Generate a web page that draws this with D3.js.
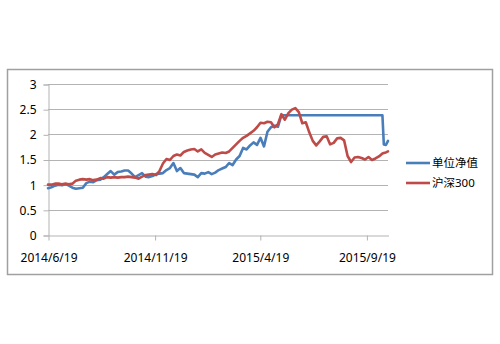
<!DOCTYPE html>
<html>
<head>
<meta charset="utf-8">
<script src="https://cdn.jsdelivr.net/npm/d3@7"></script>
<style>
  html, body { margin: 0; padding: 0; background: #fff; }
  svg { display: block; }
  text { font-family: "Noto Sans", "Noto Sans CJK SC", sans-serif; fill: #000; }
</style>
</head>
<body>
<svg id="chart" width="500" height="344"></svg>
<script>
// Observation dates (roughly every five days)
const dates = [
  "2014-06-19","2014-06-24","2014-06-29","2014-07-04","2014-07-09","2014-07-14","2014-07-19","2014-07-24","2014-07-29","2014-08-03",
  "2014-08-08","2014-08-13","2014-08-18","2014-08-23","2014-08-28","2014-09-02","2014-09-07","2014-09-12","2014-09-17","2014-09-22",
  "2014-09-27","2014-10-02","2014-10-07","2014-10-12","2014-10-17","2014-10-22","2014-10-27","2014-11-01","2014-11-06","2014-11-11",
  "2014-11-16","2014-11-21","2014-11-26","2014-12-01","2014-12-06","2014-12-11","2014-12-16","2014-12-21","2014-12-26","2014-12-31",
  "2015-01-05","2015-01-10","2015-01-15","2015-01-20","2015-01-25","2015-01-30","2015-02-04","2015-02-09","2015-02-14","2015-02-19",
  "2015-02-24","2015-03-01","2015-03-06","2015-03-11","2015-03-16","2015-03-21","2015-03-26","2015-03-31","2015-04-05","2015-04-10",
  "2015-04-15","2015-04-20","2015-04-25","2015-04-30","2015-05-05","2015-05-10","2015-05-15","2015-05-20","2015-05-25","2015-05-30",
  "2015-06-04","2015-06-09","2015-06-14","2015-06-19","2015-06-24","2015-06-29","2015-07-04","2015-07-09","2015-07-14","2015-07-19",
  "2015-07-24","2015-07-29","2015-08-03","2015-08-08","2015-08-13","2015-08-18","2015-08-23","2015-08-28","2015-09-02","2015-09-07",
  "2015-09-12","2015-09-17","2015-09-22","2015-09-27","2015-10-02","2015-10-07","2015-10-12","2015-10-14","2015-10-17","2015-10-20"
];

// 单位净值 (fund NAV per unit)
const navValues = [
  0.93,0.95,0.98,1.00,0.99,1.01,0.98,0.94,0.92,0.93,
  0.94,1.03,1.06,1.05,1.09,1.10,1.15,1.21,1.27,1.20,
  1.25,1.26,1.28,1.28,1.22,1.15,1.19,1.23,1.16,1.15,
  1.17,1.21,1.22,1.23,1.29,1.33,1.43,1.27,1.33,1.23,
  1.22,1.21,1.20,1.15,1.23,1.22,1.25,1.21,1.24,1.29,
  1.32,1.35,1.43,1.39,1.50,1.57,1.73,1.70,1.78,1.84,
  1.79,1.93,1.76,2.05,2.14,2.17,2.15,2.38,2.38,2.38,
  2.38,2.38,2.38,2.38,2.38,2.38,2.38,2.38,2.38,2.38,
  2.38,2.38,2.38,2.38,2.38,2.38,2.38,2.38,2.38,2.38,
  2.38,2.38,2.38,2.38,2.38,2.38,2.38,1.80,1.79,1.87
];

// 沪深300 (CSI 300, rebased)
const csiValues = [
  1.00,1.00,1.02,1.02,1.01,1.02,1.01,1.02,1.08,1.10,
  1.11,1.10,1.11,1.09,1.10,1.13,1.12,1.15,1.14,1.15,
  1.14,1.15,1.15,1.16,1.15,1.14,1.12,1.16,1.19,1.20,
  1.21,1.19,1.27,1.42,1.51,1.49,1.57,1.60,1.58,1.65,
  1.68,1.70,1.71,1.66,1.70,1.63,1.59,1.55,1.60,1.62,
  1.64,1.63,1.66,1.73,1.80,1.87,1.93,1.97,2.02,2.07,
  2.14,2.23,2.22,2.25,2.24,2.14,2.20,2.40,2.29,2.42,
  2.49,2.52,2.44,2.22,2.24,2.04,1.87,1.78,1.86,1.95,
  1.96,1.80,1.83,1.92,1.93,1.88,1.57,1.45,1.54,1.55,
  1.53,1.50,1.55,1.49,1.52,1.56,1.62,1.63,1.64,1.66
];

const yTicks = [0, 0.5, 1, 1.5, 2, 2.5, 3];
const xTickLabels = ["2014/6/19", "2014/11/19", "2015/4/19", "2015/9/19"];
const seriesNames = ["单位净值", "沪深300"];
const seriesColors = ["#4a7ebb", "#be4b48"];

const parseDash = d3.timeParse("%Y-%m-%d");
const parseSlash = d3.timeParse("%Y/%m/%d");
const fmt = d3.timeFormat("%Y/%-m/%-d");

const svg = d3.select("#chart");

// chart frame
svg.append("rect")
  .attr("x", 7.5).attr("y", 69.5)
  .attr("width", 485).attr("height", 205)
  .attr("fill", "#fff")
  .attr("stroke", "#a0a0a0")
  .attr("stroke-width", 1.5);

const plot = { left: 48, right: 388, top: 84, bottom: 235 };

const x = d3.scaleTime()
  .domain([parseDash("2014-06-19"), parseDash("2015-10-20")])
  .range([plot.left, plot.right]);

const y = d3.scaleLinear()
  .domain([0, 3])
  .range([plot.bottom, plot.top]);

// horizontal gridlines
svg.append("g")
  .selectAll("line")
  .data(yTicks.filter(v => v > 0))
  .join("line")
  .attr("x1", plot.left).attr("x2", plot.right)
  .attr("y1", d => Math.round(y(d)) + 0.5).attr("y2", d => Math.round(y(d)) + 0.5)
  .attr("stroke", "#b3b3b3")
  .attr("stroke-width", 1);

// y axis
const yAxis = svg.append("g")
  .attr("transform", `translate(${plot.left + 0.5},0.5)`)
  .call(d3.axisLeft(y).tickValues(yTicks).tickSize(5).tickPadding(7).tickFormat(d => String(d)));
yAxis.select(".domain").attr("stroke", "#b3b3b3");
yAxis.selectAll(".tick line").attr("stroke", "#b3b3b3");
yAxis.selectAll(".tick text")
  .attr("font-size", 12)
  .attr("fill", "#000");

// x axis
const xAxis = svg.append("g")
  .attr("transform", `translate(0.5,${plot.bottom + 0.5})`)
  .call(d3.axisBottom(x)
    .tickValues(xTickLabels.map(parseSlash))
    .tickSize(5)
    .tickSizeOuter(0)
    .tickFormat(fmt));
xAxis.select(".domain").attr("stroke", "#b3b3b3");
xAxis.selectAll(".tick line").attr("stroke", "#b3b3b3");
xAxis.selectAll(".tick text")
  .attr("font-size", 12)
  .attr("fill", "#000")
  .attr("y", 26)
  .attr("dy", 0);

// series lines
const parsedDates = dates.map(parseDash);
const series = [navValues, csiValues];
const line = d3.line()
  .x(d => x(d[0]))
  .y(d => y(d[1]));

series.forEach((vals, i) => {
  svg.append("path")
    .datum(parsedDates.map((dt, k) => [dt, vals[k]]))
    .attr("fill", "none")
    .attr("stroke", seriesColors[i])
    .attr("stroke-width", 2.6)
    .attr("stroke-linejoin", "round")
    .attr("stroke-linecap", "round")
    .attr("d", line);
});

// legend
const legend = svg.append("g");
const legendY = [163, 183];
seriesNames.forEach((name, i) => {
  legend.append("line")
    .attr("x1", 406).attr("x2", 430)
    .attr("y1", legendY[i]).attr("y2", legendY[i])
    .attr("stroke", seriesColors[i])
    .attr("stroke-width", 2.6);
  legend.append("text")
    .attr("x", 432)
    .attr("y", legendY[i])
    .attr("dy", "0.36em")
    .attr("font-size", 11.5)
    .text(name);
});
</script>
</body>
</html>
